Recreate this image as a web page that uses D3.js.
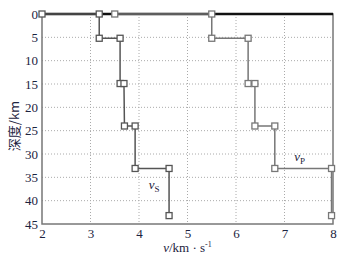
<!DOCTYPE html>
<html>
<head>
<meta charset="utf-8">
<script src="https://cdn.jsdelivr.net/npm/d3@7"></script>
<style>
  body { margin: 0; background: #fff; }
  text { font-family: "Liberation Serif", "DejaVu Serif", serif; fill: #1c2340; }
</style>
</head>
<body>
<div id="chart"></div>
<script>
// velocity (km/s) and depth (km) pairs
const vsVel   = [2, 3.18, 3.18, 3.61, 3.61, 3.69, 3.70, 3.92, 3.92, 4.62, 4.62];
const vsDepth = [0, 0, 5.2, 5.2, 14.9, 14.9, 24, 24, 33.1, 33.1, 43.2];
const vpVel   = [3.5, 5.5, 5.5, 6.25, 6.25, 6.39, 6.39, 6.8, 6.8, 7.97, 7.97];
const vpDepth = [0, 0, 5.2, 5.2, 14.9, 14.9, 24, 24, 33.1, 33.1, 43.2];
const xTicks = [2, 3, 4, 5, 6, 7, 8];
const yTicks = [0, 5, 10, 15, 20, 25, 30, 35, 40, 45];

const width = 347, height = 260;
const margin = { top: 14, right: 14, bottom: 36, left: 42 };
const w = width - margin.left - margin.right;
const h = height - margin.top - margin.bottom;

const svg = d3.select("#chart").append("svg")
  .attr("width", width).attr("height", height);
const g = svg.append("g")
  .attr("transform", `translate(${margin.left},${margin.top})`);

const x = d3.scaleLinear().domain([2, 8]).range([0, w]);
const y = d3.scaleLinear().domain([0, 45]).range([0, h]);

// dotted grid
g.selectAll(".gx").data(xTicks.slice(1, -1)).enter().append("line")
  .attr("x1", d => x(d)).attr("x2", d => x(d))
  .attr("y1", 0).attr("y2", h)
  .attr("stroke", "#aaa").attr("stroke-width", 1)
  .attr("stroke-dasharray", "1,2");
g.selectAll(".gy").data(yTicks.slice(1, -1)).enter().append("line")
  .attr("x1", 0).attr("x2", w)
  .attr("y1", d => y(d)).attr("y2", d => y(d))
  .attr("stroke", "#aaa").attr("stroke-width", 1)
  .attr("stroke-dasharray", "1,2");

// frame
g.append("rect").attr("width", w).attr("height", h)
  .attr("fill", "none").attr("stroke", "#777").attr("stroke-width", 1.5);
g.append("line").attr("x1", 0).attr("x2", w).attr("y1", 0).attr("y2", 0)
  .attr("stroke", "#111").attr("stroke-width", 2.5);

// axes labels
const xAxis = d3.axisBottom(x).tickValues(xTicks).tickFormat(d3.format("d"))
  .tickSize(0).tickPadding(5);
const gx = g.append("g").attr("transform", `translate(0,${h})`).call(xAxis);
gx.select(".domain").remove();
gx.selectAll("text").style("font-size", "13px").attr("dy", "0.7em");

const yAxis = d3.axisLeft(y).tickValues(yTicks).tickSize(0).tickPadding(4);
const gy = g.append("g").call(yAxis);
gy.select(".domain").remove();
gy.selectAll("text").style("font-size", "13px").attr("dy", "0.32em");

function drawSeries(vel, depth, color) {
  const pts = vel.map((v, i) => [v, depth[i]]);
  g.append("path").datum(pts)
    .attr("fill", "none").attr("stroke", color).attr("stroke-width", 1.5)
    .attr("d", d3.line().x(d => x(d[0])).y(d => y(d[1])));
  g.selectAll(null).data(pts).enter().append("rect")
    .attr("x", d => x(d[0]) - 3).attr("y", d => y(d[1]) - 3)
    .attr("width", 6).attr("height", 6)
    .attr("fill", "#fff").attr("stroke", color).attr("stroke-width", 1.3);
}
drawSeries(vsVel, vsDepth, "#555");
drawSeries(vpVel, vpDepth, "#777");

// series labels
const lab = (vx, dy, sub) => {
  const t = g.append("text").attr("x", x(vx)).attr("y", y(dy))
    .style("font-size", "13px").style("font-style", "italic");
  t.append("tspan").text("v");
  t.append("tspan").attr("dy", 3).style("font-size", "9px").style("font-style", "normal").text(sub);
};
lab(4.2, 37.5, "S");
lab(7.2, 31.5, "P");

// axis titles
const xt = svg.append("text")
  .attr("x", margin.left + w / 2).attr("y", 252)
  .attr("text-anchor", "middle").style("font-size", "13px");
xt.append("tspan").style("font-style", "italic").text("v");
xt.append("tspan").text("/km · s");
xt.append("tspan").attr("dy", -5).style("font-size", "8px").text("-1");

svg.append("text")
  .attr("transform", `translate(19,${margin.top + 112}) rotate(-90)`)
  .attr("text-anchor", "middle")
  .style("font-family", "'Noto Sans CJK SC', serif").style("font-size", "13px")
  .text("深度/km");
</script>
</body>
</html>
